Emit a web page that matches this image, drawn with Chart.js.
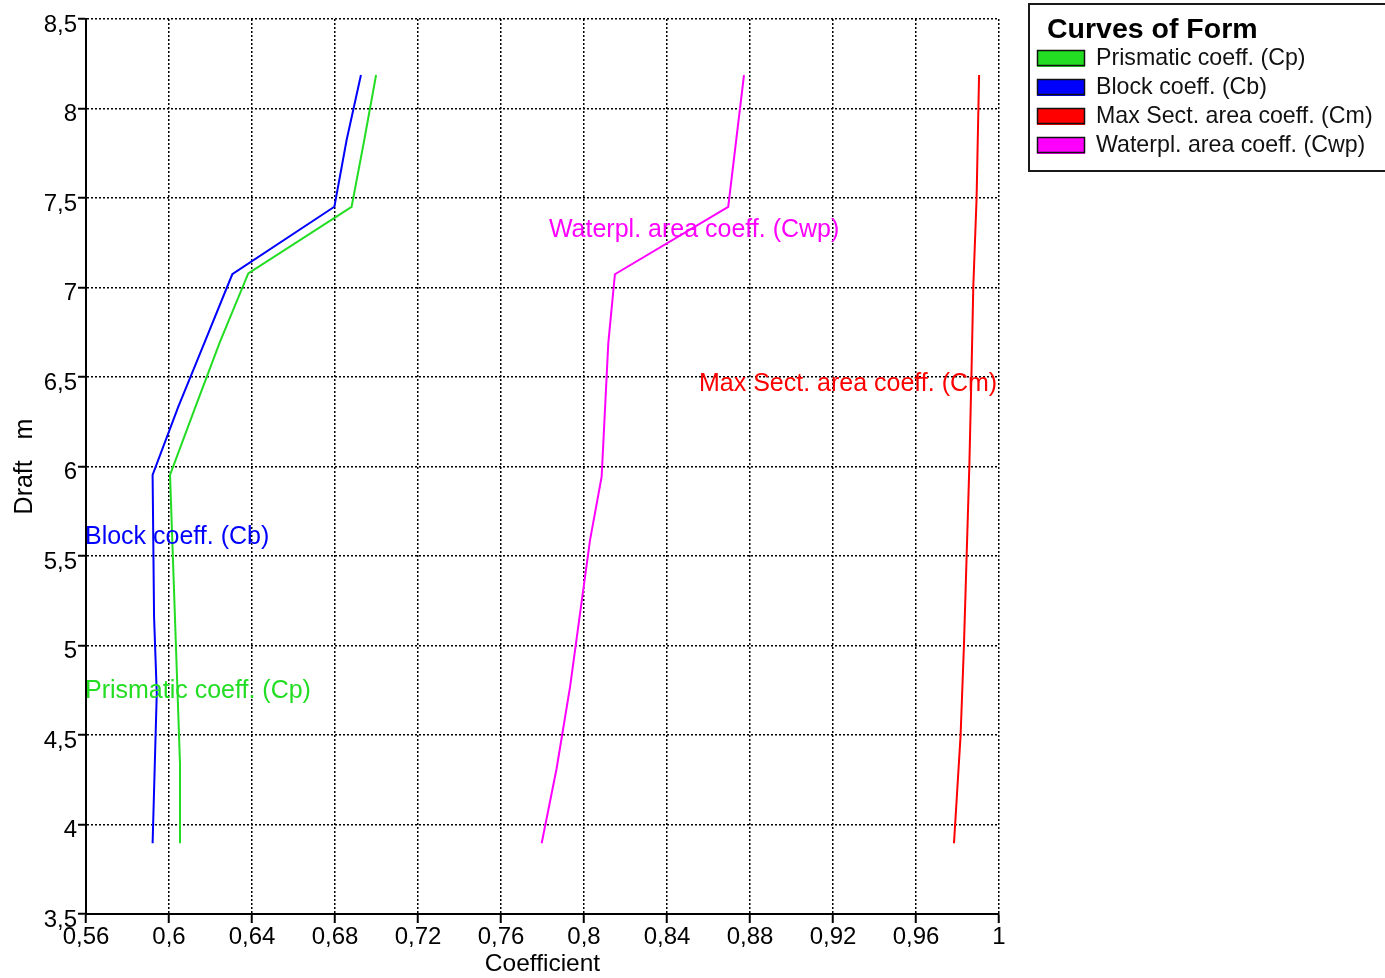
<!DOCTYPE html>
<html><head><meta charset="utf-8">
<script src="https://cdn.jsdelivr.net/npm/chart.js@4"></script>
<style>html,body{margin:0;padding:0;background:#fff;}canvas{display:block;}</style>
</head><body>
<canvas id="c" width="1385" height="978"></canvas>
<script>
// ---- data ----
const xTickValues = [0.56, 0.6, 0.64, 0.68, 0.72, 0.76, 0.8, 0.84, 0.88, 0.92, 0.96, 1];
const yTickValues = [3.5, 4, 4.5, 5, 5.5, 6, 6.5, 7, 7.5, 8, 8.5];

const cpDraft = [3.895, 4.342, 5.953, 6.316, 6.697, 7.079, 7.451, 7.824, 8.187];
const cpValue = [0.6053, 0.6053, 0.6005, 0.6122, 0.6246, 0.6382, 0.6880, 0.6941, 0.6998];

const cbDraft = [3.895, 4.733, 5.161, 5.953, 6.334, 6.697, 7.074, 7.451, 7.824, 8.187];
const cbValue = [0.5921, 0.5941, 0.5928, 0.5921, 0.6045, 0.6173, 0.6305, 0.6797, 0.6856, 0.6925];

const cmDraft = [3.895, 4.5, 5.0, 5.5, 6.0, 6.5, 7.0, 7.5, 8.187];
const cmValue = [0.9783, 0.9815, 0.9831, 0.9844, 0.9857, 0.9867, 0.9876, 0.9892, 0.9904];

const cwpDraft = [3.895, 4.313, 4.770, 5.589, 5.943, 6.688, 7.074, 7.451, 8.187];
const cwpValue = [0.7796, 0.7868, 0.7933, 0.8029, 0.8085, 0.8117, 0.8149, 0.8695, 0.8771];

const seriesNames = ['Prismatic coeff. (Cp)', 'Block coeff. (Cb)', 'Max Sect. area coeff. (Cm)', 'Waterpl. area coeff. (Cwp)'];
const legendTitle = 'Curves of Form';
const xTitle = 'Coefficient';
const yTitle = 'Draft   m';

// ---- styles ----
const FONT = '"Liberation Sans", Arial, Helvetica, sans-serif';
const colors = ['#22dd22', '#0000ff', '#ff0000', '#ff00ff'];
// in-chart label anchors (data coordinates)
const labelAnchors = [
  {series: 0, x: 0.5595, y: 4.745},
  {series: 1, x: 0.5595, y: 5.606},
  {series: 2, x: 0.8554, y: 6.46},
  {series: 3, x: 0.7831, y: 7.321}
];

const toPts = (xs, ys) => xs.map((v, i) => ({x: v, y: ys[i]}));
const seriesData = [toPts(cpValue, cpDraft), toPts(cbValue, cbDraft), toPts(cmValue, cmDraft), toPts(cwpValue, cwpDraft)];
const fmt = v => String(v).replace('.', ',');

const annot = {
  id: 'annot',
  afterDraw(chart) {
    const {ctx, scales: {x, y}} = chart;
    ctx.save();
    ctx.font = '25px ' + FONT;
    ctx.textAlign = 'left';
    ctx.textBaseline = 'middle';
    labelAnchors.forEach(l => {
      ctx.fillStyle = colors[l.series];
      ctx.fillText(seriesNames[l.series], x.getPixelForValue(l.x), y.getPixelForValue(l.y));
    });
    // legend box
    ctx.lineWidth = 2;
    ctx.strokeStyle = '#1a1a1a';
    ctx.strokeRect(1029, 4, 370, 167);
    ctx.fillStyle = '#000';
    ctx.font = 'bold 28.5px ' + FONT;
    ctx.textBaseline = 'alphabetic';
    ctx.fillText(legendTitle, 1047, 38);
    ctx.font = '23.2px ' + FONT;
    seriesNames.forEach((n, i) => {
      const cy = 58 + i * 29;
      ctx.fillStyle = colors[i];
      ctx.fillRect(1037, cy - 8, 48, 17);
      ctx.lineWidth = 1.5;
      ctx.strokeStyle = '#111';
      ctx.strokeRect(1037.5, cy - 7.5, 47, 15);
      ctx.fillStyle = '#111';
      ctx.textBaseline = 'middle';
      ctx.fillText(n, 1096, cy + 1);
    });
    ctx.restore();
  }
};

new Chart(document.getElementById('c'), {
  type: 'scatter',
  data: {
    datasets: seriesData.map((d, i) => ({
      label: seriesNames[i],
      data: d,
      showLine: true,
      borderColor: colors[i],
      backgroundColor: colors[i],
      borderWidth: 2,
      pointRadius: 0,
      tension: 0
    }))
  },
  options: {
    responsive: false,
    animation: false,
    devicePixelRatio: 1,
    layout: {padding: {top: 19, right: 386, bottom: 0, left: 0}},
    plugins: {legend: {display: false}, tooltip: {enabled: false}},
    scales: {
      x: {
        type: 'linear', min: 0.56, max: 1,
        afterBuildTicks: s => { s.ticks = xTickValues.map(v => ({value: v})); },
        afterFit: s => { s.height = 64; },
        ticks: {callback: v => fmt(v), color: '#000', font: {family: FONT, size: 24}, padding: 0, maxRotation: 0, autoSkip: false},
        grid: {color: '#000', lineWidth: 1.5, tickLength: 9, tickColor: '#000', tickWidth: 2},
        border: {display: true, color: '#000', width: 2, dash: [2, 2]},
        title: {display: true, text: xTitle, color: '#000', font: {family: FONT, size: 24.5}, padding: {top: 0, bottom: -1}}
      },
      y: {
        type: 'linear', min: 3.5, max: 8.5,
        afterBuildTicks: s => { s.ticks = yTickValues.map(v => ({value: v})); },
        afterFit: s => { s.width = 86; },
        ticks: {callback: v => fmt(v), color: '#000', font: {family: FONT, size: 24}, padding: 1, labelOffset: 6, autoSkip: false},
        grid: {color: '#000', lineWidth: 1.5, tickLength: 8, tickColor: '#000', tickWidth: 2},
        border: {display: true, color: '#000', width: 2, dash: [2, 2]},
        title: {display: true, text: yTitle, color: '#000', font: {family: FONT, size: 25}, padding: {top: 10, bottom: 0}}
      }
    }
  },
  plugins: [annot]
});
</script>
</body></html>
